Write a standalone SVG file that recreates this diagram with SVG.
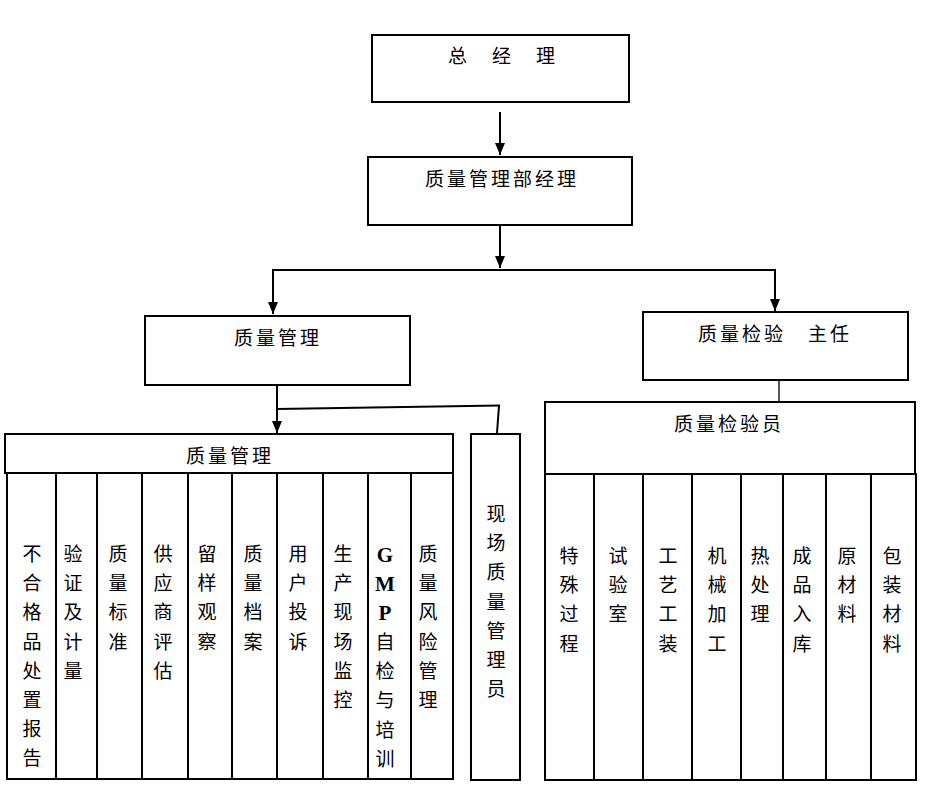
<svg xmlns="http://www.w3.org/2000/svg" width="925" height="800" viewBox="0 0 925 800">
<style>
.box{fill:#fff;stroke:#000;stroke-width:2}
.ln{fill:none;stroke:#000;stroke-width:2}
.t{font-family:"Noto Sans CJK SC","Noto Sans",sans-serif;font-size:19px;fill:#000;text-anchor:middle;letter-spacing:3px}
.v{font-family:"Noto Sans CJK SC","Noto Sans",sans-serif;font-size:19px;fill:#000;text-anchor:middle}
.lat{font-family:"Liberation Serif","Times New Roman",serif;font-size:21px;font-weight:bold}
</style>
<defs>
<marker id="ah" markerUnits="userSpaceOnUse" markerWidth="12" markerHeight="12" refX="12" refY="5" orient="auto" viewBox="0 0 12 10">
<path d="M0,0 L12,5 L0,10 z" fill="#000"/>
</marker>
</defs>
<rect width="925" height="800" fill="#fff"/>
<g id="connectors">
<line class="ln" x1="500" y1="112" x2="500" y2="155" marker-end="url(#ah)"/>
<line class="ln" x1="500" y1="225" x2="500" y2="268" marker-end="url(#ah)"/>
<line class="ln" x1="272" y1="270" x2="776" y2="270"/>
<line class="ln" x1="273" y1="269" x2="273" y2="314" marker-end="url(#ah)"/>
<line class="ln" x1="775" y1="269" x2="775" y2="311" marker-end="url(#ah)"/>
<line class="ln" x1="277" y1="385" x2="277" y2="433" marker-end="url(#ah)"/>
<line class="ln" x1="277" y1="409" x2="500" y2="405.5"/>
<line class="ln" x1="499" y1="405.5" x2="497" y2="433"/>
<line x1="779" y1="380" x2="779" y2="402" stroke="#555" stroke-width="2"/>
</g>
<g id="gm">
<rect class="box" x="372" y="35" width="257" height="67"/>
<text class="t" x="503" y="63">总　经　理</text>
</g>
<g id="qmdm">
<rect class="box" x="368" y="157" width="264" height="68"/>
<text class="t" x="502" y="186">质量管理部经理</text>
</g>
<g id="qm">
<rect class="box" x="145" y="316" width="265" height="69"/>
<text class="t" x="278" y="345">质量管理</text>
</g>
<g id="qi">
<rect class="box" x="643" y="312" width="265" height="68"/>
<text class="t" x="775" y="341">质量检验　主任</text>
</g>
<g id="qm-group">
<rect class="box" x="5" y="434" width="448" height="39"/>
<text class="t" x="230" y="463">质量管理</text>
<rect class="box" x="7" y="473" width="446" height="306"/>
<path class="ln" d="M56,473V779 M97,473V779 M142,473V779 M188,473V779 M232,473V779 M277,473V779 M323,473V779 M368,473V779 M411,473V779"/>
<text class="v"><tspan x="32" y="561">不</tspan><tspan x="32" dy="29.2">合</tspan><tspan x="32" dy="29.2">格</tspan><tspan x="32" dy="29.2">品</tspan><tspan x="32" dy="29.2">处</tspan><tspan x="32" dy="29.2">置</tspan><tspan x="32" dy="29.2">报</tspan><tspan x="32" dy="29.2">告</tspan></text>
<text class="v"><tspan x="73" y="561">验</tspan><tspan x="73" dy="29.2">证</tspan><tspan x="73" dy="29.2">及</tspan><tspan x="73" dy="29.2">计</tspan><tspan x="73" dy="29.2">量</tspan></text>
<text class="v"><tspan x="118" y="561">质</tspan><tspan x="118" dy="29.2">量</tspan><tspan x="118" dy="29.2">标</tspan><tspan x="118" dy="29.2">准</tspan></text>
<text class="v"><tspan x="163" y="561">供</tspan><tspan x="163" dy="29.2">应</tspan><tspan x="163" dy="29.2">商</tspan><tspan x="163" dy="29.2">评</tspan><tspan x="163" dy="29.2">估</tspan></text>
<text class="v"><tspan x="207" y="561">留</tspan><tspan x="207" dy="29.2">样</tspan><tspan x="207" dy="29.2">观</tspan><tspan x="207" dy="29.2">察</tspan></text>
<text class="v"><tspan x="253" y="561">质</tspan><tspan x="253" dy="29.2">量</tspan><tspan x="253" dy="29.2">档</tspan><tspan x="253" dy="29.2">案</tspan></text>
<text class="v"><tspan x="298" y="561">用</tspan><tspan x="298" dy="29.2">户</tspan><tspan x="298" dy="29.2">投</tspan><tspan x="298" dy="29.2">诉</tspan></text>
<text class="v"><tspan x="343" y="561">生</tspan><tspan x="343" dy="29.2">产</tspan><tspan x="343" dy="29.2">现</tspan><tspan x="343" dy="29.2">场</tspan><tspan x="343" dy="29.2">监</tspan><tspan x="343" dy="29.2">控</tspan></text>
<text class="v"><tspan class="lat" x="385" y="562">G</tspan><tspan class="lat" x="385" dy="29.2">M</tspan><tspan class="lat" x="385" dy="29.2">P</tspan><tspan x="385" dy="28.6">自</tspan><tspan x="385" dy="29.2">检</tspan><tspan x="385" dy="29.2">与</tspan><tspan x="385" dy="29.2">培</tspan><tspan x="385" dy="29.2">训</tspan></text>
<text class="v"><tspan x="428" y="561">质</tspan><tspan x="428" dy="29.2">量</tspan><tspan x="428" dy="29.2">风</tspan><tspan x="428" dy="29.2">险</tspan><tspan x="428" dy="29.2">管</tspan><tspan x="428" dy="29.2">理</tspan></text>
</g>
<g id="site-qm">
<rect class="box" x="471" y="434" width="49" height="346"/>
<text class="v"><tspan x="496" y="521">现</tspan><tspan x="496" dy="29.2">场</tspan><tspan x="496" dy="29.2">质</tspan><tspan x="496" dy="29.2">量</tspan><tspan x="496" dy="29.2">管</tspan><tspan x="496" dy="29.2">理</tspan><tspan x="496" dy="29.2">员</tspan></text>
</g>
<g id="inspectors">
<rect class="box" x="545" y="402" width="370" height="72"/>
<text class="t" x="729" y="431">质量检验员</text>
<rect class="box" x="545" y="474" width="371" height="306"/>
<path class="ln" d="M594,474V780 M643,474V781 M692,474V781 M741,474V780 M783,474V780 M826,474V780 M871,474V780"/>
<text class="v"><tspan x="569" y="563">特</tspan><tspan x="569" dy="29.2">殊</tspan><tspan x="569" dy="29.2">过</tspan><tspan x="569" dy="29.2">程</tspan></text>
<text class="v"><tspan x="618" y="563">试</tspan><tspan x="618" dy="29.2">验</tspan><tspan x="618" dy="29.2">室</tspan></text>
<text class="v"><tspan x="668" y="563">工</tspan><tspan x="668" dy="29.2">艺</tspan><tspan x="668" dy="29.2">工</tspan><tspan x="668" dy="29.2">装</tspan></text>
<text class="v"><tspan x="717" y="563">机</tspan><tspan x="717" dy="29.2">械</tspan><tspan x="717" dy="29.2">加</tspan><tspan x="717" dy="29.2">工</tspan></text>
<text class="v"><tspan x="760" y="563">热</tspan><tspan x="760" dy="29.2">处</tspan><tspan x="760" dy="29.2">理</tspan></text>
<text class="v"><tspan x="802" y="563">成</tspan><tspan x="802" dy="29.2">品</tspan><tspan x="802" dy="29.2">入</tspan><tspan x="802" dy="29.2">库</tspan></text>
<text class="v"><tspan x="847" y="563">原</tspan><tspan x="847" dy="29.2">材</tspan><tspan x="847" dy="29.2">料</tspan></text>
<text class="v"><tspan x="892" y="563">包</tspan><tspan x="892" dy="29.2">装</tspan><tspan x="892" dy="29.2">材</tspan><tspan x="892" dy="29.2">料</tspan></text>
</g>
</svg>
